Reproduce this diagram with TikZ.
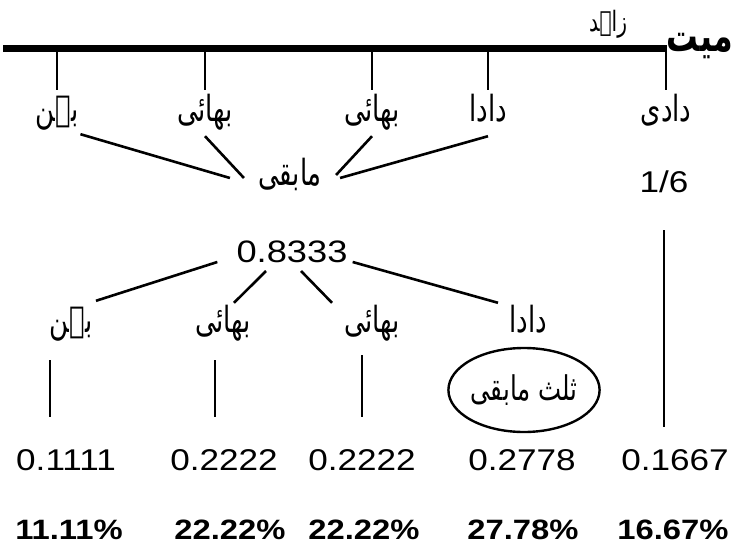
\documentclass[tikz,border=0pt]{standalone}
\usepackage{fontspec}
\setmainfont{Liberation Sans}
\newfontfamily\numfont{Liberation Sans}[FakeStretch=1.17]
\newfontfamily\urdu[Script=Arabic,FakeStretch=0.72]{DejaVu Sans}
\TeXXeTstate=1
\usetikzlibrary{shapes.geometric}
\newcommand{\ur}[1]{\beginR#1\endR}

\begin{document}
\begin{tikzpicture}[x=1pt,y=-1pt,
    every node/.style={inner sep=0pt},
    word/.style={font=\urdu\fontsize{36}{36}\selectfont, anchor=base,
      text height=22pt, text depth=8pt, inner ysep=11pt, inner xsep=2pt},
    num/.style={font=\numfont\fontsize{30}{30}\selectfont, anchor=base},
    pct/.style={font=\numfont\bfseries\fontsize{28}{28}\selectfont, anchor=base},
    link/.style={line width=2.6pt},
    heavy/.style={line width=7pt}]
  \useasboundingbox (0,0) rectangle (733,551);

  \node[font=\urdu\bfseries\fontsize{44}{44}\selectfont, anchor=base east] (mayyit) at (733,52) {\ur{میت}};
  \node[font=\urdu\fontsize{28}{28}\selectfont] (zahid) at (608,24) {\ur{زاہد}};
  \coordinate (start) at (3,49);
  \draw[heavy] (start) -- ([yshift=3pt]mayyit.base west);

  \node[word] (bhn1) at (57,121) {\ur{بہن}};
  \node[word] (bhai1) at (205,121) {\ur{بھائی}};
  \node[word] (bhai2) at (372,121) {\ur{بھائی}};
  \node[word] (dada1) at (488,121) {\ur{دادا}};
  \node[word] (dadi) at (666,121) {\ur{دادی}};
  \draw[link] (bhn1.north |- start) -- ([yshift=-2pt]bhn1.north);
  \draw[link] (bhai1.north |- start) -- ([yshift=-2pt]bhai1.north);
  \draw[link] (bhai2.north |- start) -- ([yshift=-2pt]bhai2.north);
  \draw[link] (dada1.north |- start) -- ([yshift=-2pt]dada1.north);
  \draw[link] (dadi.north |- start) -- ([yshift=-2pt]dadi.north);

  \node[word, inner xsep=14pt] (rem) at (290,185) {\ur{مابقی}};
  \draw[link] ([yshift=6pt]bhn1.south east) -- ([xshift=-14pt]rem.west);
  \draw[link] ([yshift=4pt]bhai1.south) -- (rem.west);
  \draw[link] ([yshift=4pt]bhai2.south) -- ([yshift=3pt]rem.east);
  \draw[link] ([yshift=4pt]dada1.south) -- ([xshift=4pt]rem.east);

  \node[num] (sixth) at (664,192) {1/6};
  \draw[link] ([yshift=-38pt]sixth.base) -- ++(0,197);

  \node[num, font=\numfont\fontsize{31}{31}\selectfont] (whole) at (292,262) {0.8333};
  \node[word] (bhn2) at (71,332) {\ur{بہن}};
  \node[word] (bhai3) at (223,332) {\ur{بھائی}};
  \node[word] (bhai4) at (372,332) {\ur{بھائی}};
  \node[word] (dada2) at (528,332) {\ur{دادا}};
  \draw[link] ([xshift=-19pt]whole.base west) -- ([xshift=25pt,yshift=-2pt]bhn2.north);
  \draw[link] ([xshift=-26pt,yshift=-9pt]whole.base) -- ([xshift=11pt,yshift=-4pt]bhai3.north);
  \draw[link] ([xshift=9pt,yshift=-9pt]whole.base) -- ([xshift=-40pt,yshift=-4pt]bhai4.north);
  \draw[link] ([xshift=5pt]whole.base east) -- ([xshift=-30pt,yshift=-4pt]dada2.north);

  \draw[link] ([xshift=-21pt,yshift=-9pt]bhn2.south) -- ++(0,57);
  \draw[link] ([xshift=-8pt,yshift=-9pt]bhai3.south) -- ++(0,57);
  \draw[link] ([xshift=-10pt,yshift=-4pt]bhai4.south) -- ++(0,62);
  \node[draw, ellipse, line width=2.4pt, minimum width=118pt, minimum height=84pt,
    font=\urdu\fontsize{34}{34}\selectfont] (third) at (524,390) {\ur{ثلث مابقی}};

  \node[num] (n1) at (66,470) {0.1111};
  \node[num] (n2) at (224,470) {0.2222};
  \node[num] (n3) at (362,470) {0.2222};
  \node[num] (n4) at (522,470) {0.2778};
  \node[num] (n5) at (675,470) {0.1667};

  \node[pct] (p1) at (69,539) {11.11\%};
  \node[pct] (p2) at (230,539) {22.22\%};
  \node[pct] (p3) at (364,539) {22.22\%};
  \node[pct] (p4) at (523,539) {27.78\%};
  \node[pct] (p5) at (673,539) {16.67\%};
\end{tikzpicture}
\end{document}
